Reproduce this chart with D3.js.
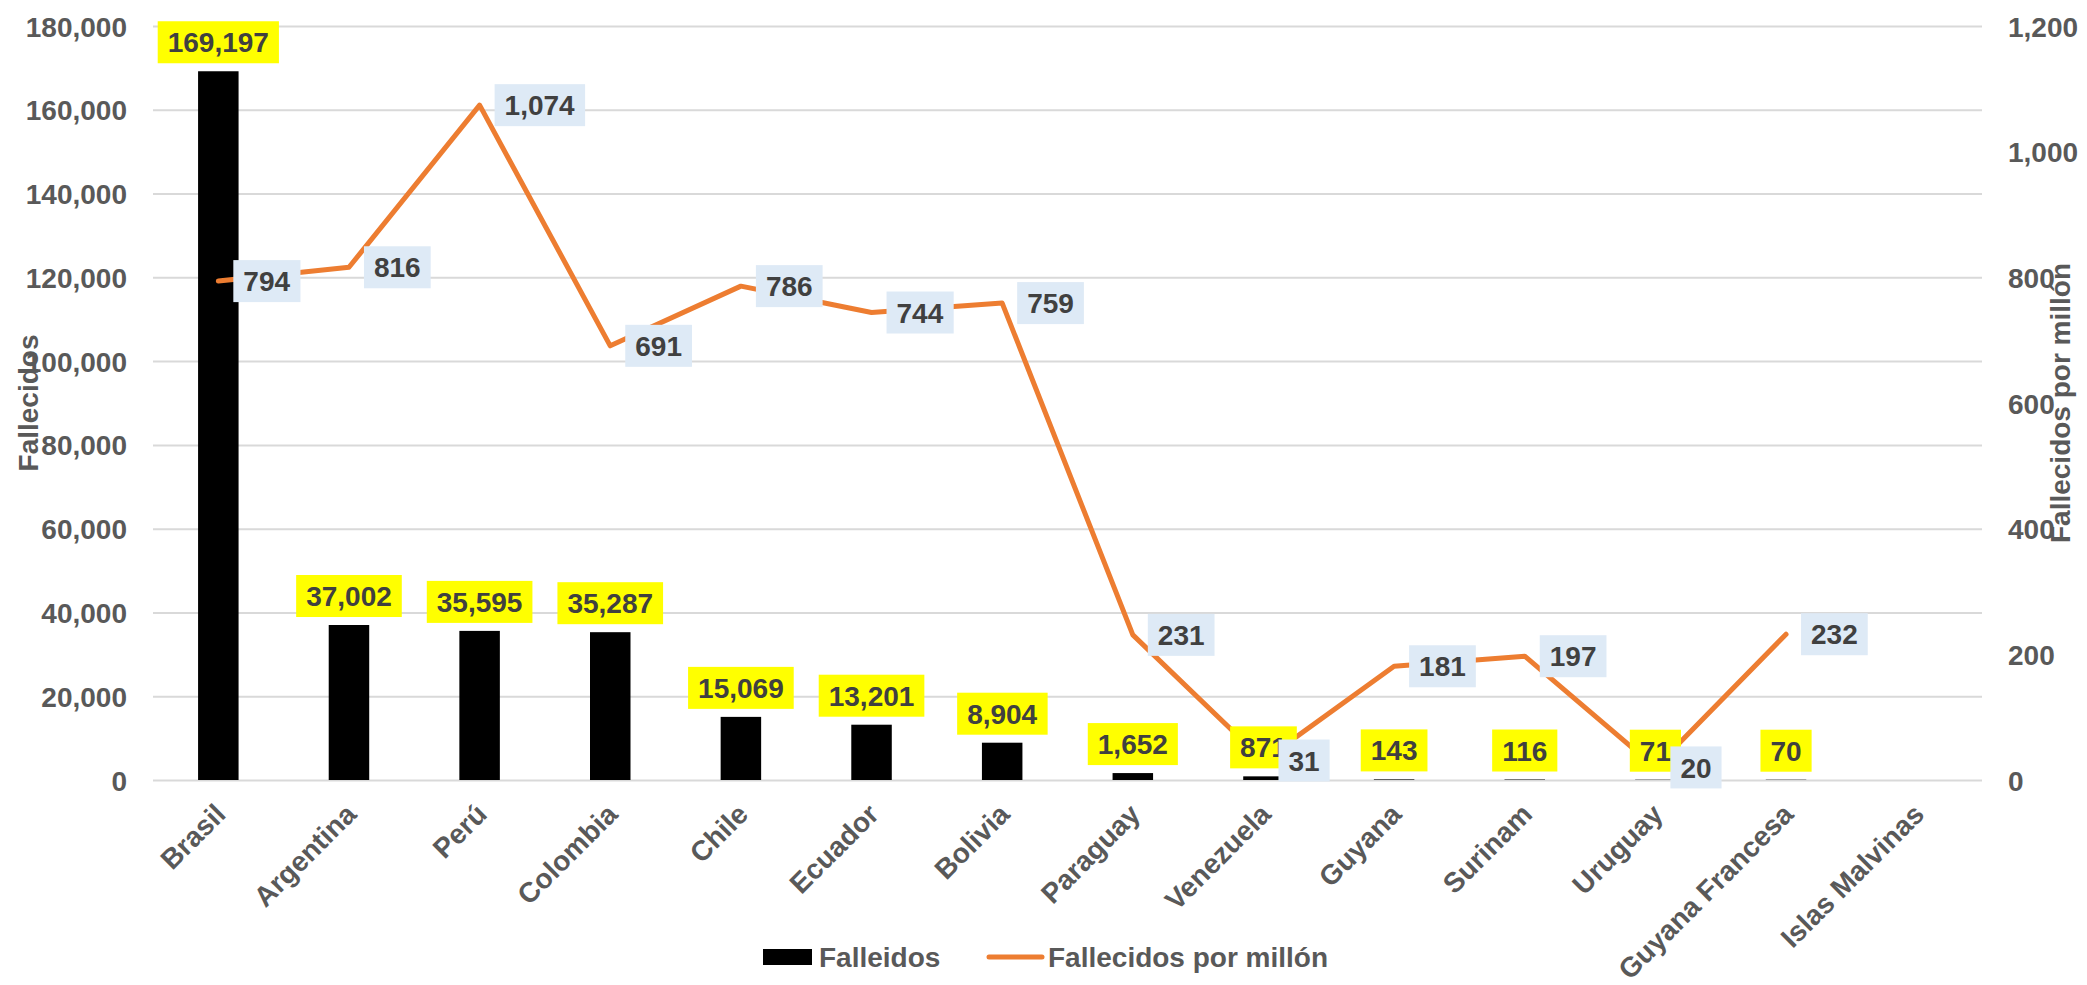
<!DOCTYPE html>
<html>
<head>
<meta charset="utf-8">
<script src="https://cdn.jsdelivr.net/npm/d3@7"></script>
<style>
  html, body { margin: 0; padding: 0; background: #fff; }
  svg { display: block; font-family: "Liberation Sans", Arial, sans-serif; font-weight: bold; }
</style>
</head>
<body>
<svg id="chart"></svg>
<script>
/* ------------ DATA --------------------------------------------------- */
const countries = ['Brasil', 'Argentina', 'Perú', 'Colombia', 'Chile', 'Ecuador', 'Bolivia',
  'Paraguay', 'Venezuela', 'Guyana', 'Surinam', 'Uruguay', 'Guyana Francesa', 'Islas Malvinas'];
const deaths     = [169197, 37002, 35595, 35287, 15069, 13201, 8904, 1652, 871, 143, 116, 71, 70, null];
const perMillion = [794, 816, 1074, 691, 786, 744, 759, 231, 31, 181, 197, 20, 232, null];
const leftTicks  = [0, 20000, 40000, 60000, 80000, 100000, 120000, 140000, 160000, 180000];
const rightTicks = [0, 200, 400, 600, 800, 1000, 1200];

/* ------------ CONFIG ------------------------------------------------- */
const W = 2087, H = 985;
const X0 = 153, X1 = 1982, Y0 = 26, Y1 = 780;
const GRID = '#d9d9d9', AXIS_TXT = '#595959', LBL_TXT = '#404040';
const ORANGE = '#ed7d31';
const FS = 28;

const svg = d3.select('#chart').attr('width', W).attr('height', H);

/* ------------ SCALES ------------------------------------------------- */
const x = d3.scaleBand().domain(countries).range([X0, X1]).paddingInner(0.69).paddingOuter(0.345);
const yL = d3.scaleLinear().domain([0, 180000]).range([Y1, Y0]);
const yR = d3.scaleLinear().domain([0, 1200]).range([Y1, Y0]);
const cx = c => x(c) + x.bandwidth() / 2;
const fmt = d3.format(',');

/* ------------ AXES --------------------------------------------------- */
const gL = svg.append('g').attr('transform', `translate(${X0},0)`)
  .call(d3.axisLeft(yL).tickValues(leftTicks).tickFormat(fmt)
    .tickSizeInner(-(X1 - X0)).tickSizeOuter(0).tickPadding(26));
gL.select('.domain').remove();
gL.selectAll('line').attr('stroke', GRID).attr('stroke-width', 2);
gL.selectAll('text').attr('fill', AXIS_TXT).style('font-size', FS + 'px').attr('dy', '0.36em');

const gR = svg.append('g').attr('transform', `translate(${X1},0)`)
  .call(d3.axisRight(yR).tickValues(rightTicks).tickFormat(fmt).tickSize(0).tickPadding(26));
gR.select('.domain').remove();
gR.selectAll('text').attr('fill', AXIS_TXT).style('font-size', FS + 'px').attr('dy', '0.36em');

// category labels, rotated
svg.append('g').selectAll('text')
  .data(countries)
  .join('text')
    .attr('transform', d => `translate(${cx(d) + 9},${Y1 + 36}) rotate(-45)`)
    .attr('text-anchor', 'end')
    .attr('fill', AXIS_TXT)
    .style('font-size', FS + 'px')
    .text(d => d);

// axis titles
svg.append('text')
  .attr('transform', `translate(38,${(Y0 + Y1) / 2}) rotate(-90)`)
  .attr('text-anchor', 'middle').attr('fill', AXIS_TXT).style('font-size', FS + 'px')
  .text('Fallecidos');
svg.append('text')
  .attr('transform', `translate(2070,${(Y0 + Y1) / 2}) rotate(-90)`)
  .attr('text-anchor', 'middle').attr('fill', AXIS_TXT).style('font-size', FS + 'px')
  .text('Fallecidos por millón');

/* ------------ BARS --------------------------------------------------- */
const barData = countries.map((c, i) => ({ c, v: deaths[i] })).filter(d => d.v != null);
svg.append('g').selectAll('rect')
  .data(barData)
  .join('rect')
    .attr('x', d => x(d.c))
    .attr('width', x.bandwidth())
    .attr('y', d => yL(d.v))
    .attr('height', d => Y1 - yL(d.v))
    .attr('fill', '#000');

/* ------------ LINE --------------------------------------------------- */
const lineData = countries.map((c, i) => ({ c, v: perMillion[i] })).filter(d => d.v != null);
svg.append('path')
  .datum(lineData)
  .attr('fill', 'none')
  .attr('stroke', ORANGE)
  .attr('stroke-width', 5)
  .attr('stroke-linecap', 'round')
  .attr('stroke-linejoin', 'round')
  .attr('d', d3.line().x(d => cx(d.c)).y(d => yR(d.v)));

/* ------------ DATA LABELS -------------------------------------------- */
function boxLabel(g, tx, ty, anchor, txt, bg) {
  const t = g.append('text')
    .attr('x', tx).attr('y', ty).attr('dy', '0.36em')
    .attr('text-anchor', anchor)
    .attr('fill', LBL_TXT)
    .style('font-size', FS + 'px')
    .text(txt);
  const bb = t.node().getBBox();
  g.insert('rect', 'text')
    .attr('x', bb.x - 10).attr('y', ty - 21)
    .attr('width', bb.width + 20).attr('height', 42)
    .attr('fill', bg);
}

barData.forEach(d => {
  const g = svg.append('g').attr('class', 'bar-label');
  boxLabel(g, cx(d.c), yL(d.v) - 8 - 21, 'middle', fmt(d.v), '#ffff00');
});

lineData.forEach(d => {
  const g = svg.append('g').attr('class', 'line-label');
  boxLabel(g, cx(d.c) + 25, yR(d.v), 'start', fmt(d.v), '#deeaf6');
});

/* ------------ LEGEND ------------------------------------------------- */
const lg = svg.append('g').attr('class', 'legend');
lg.append('rect').attr('x', 763).attr('y', 949).attr('width', 49).attr('height', 16).attr('fill', '#000');
lg.append('text').attr('x', 819).attr('y', 957).attr('dy', '0.36em')
  .attr('fill', AXIS_TXT).style('font-size', FS + 'px').text('Falleidos');
lg.append('line').attr('x1', 989).attr('x2', 1042).attr('y1', 957).attr('y2', 957)
  .attr('stroke', ORANGE).attr('stroke-width', 5).attr('stroke-linecap', 'round');
lg.append('text').attr('x', 1048).attr('y', 957).attr('dy', '0.36em')
  .attr('fill', AXIS_TXT).style('font-size', FS + 'px').text('Fallecidos por millón');
</script>
</body>
</html>
